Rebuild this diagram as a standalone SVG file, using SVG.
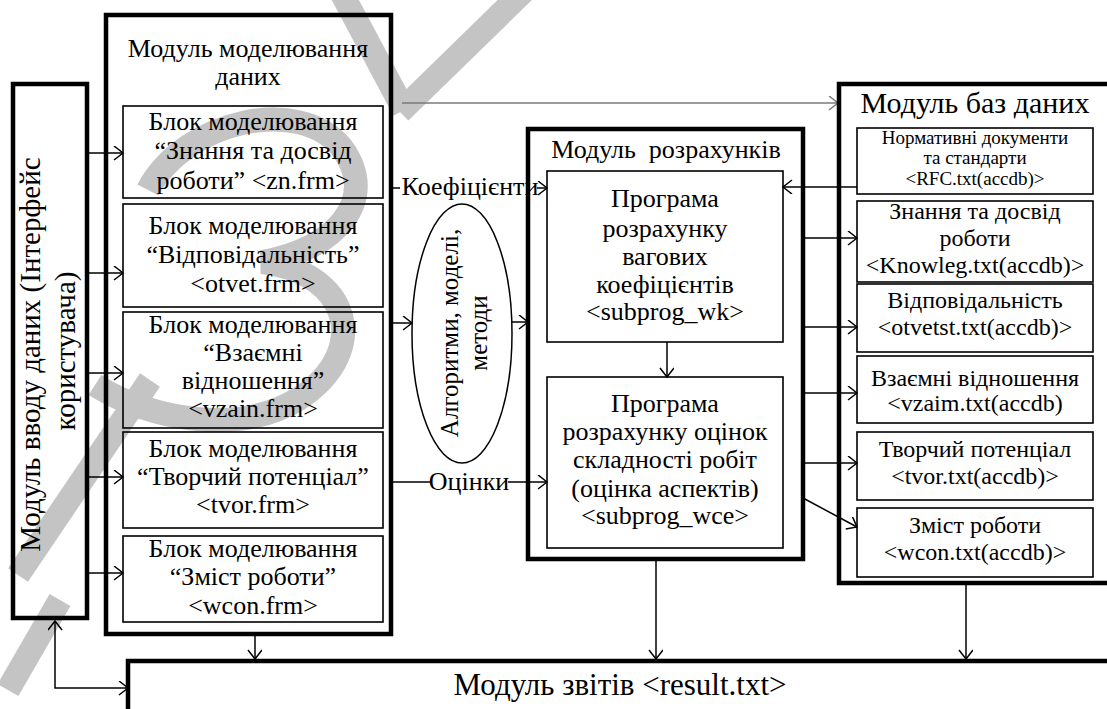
<svg xmlns="http://www.w3.org/2000/svg" width="1107" height="709" viewBox="0 0 1107 709">
  <defs>
    <style>
      .mod{fill:none;stroke:#000;stroke-width:4.5}
      .blk{fill:none;stroke:#000;stroke-width:1.6}
      .t{font-family:'Liberation Serif','Times New Roman',serif;fill:#000;text-anchor:middle}
      .c{fill:none;stroke:#000;stroke-width:1.5}
      .g{fill:none;stroke:#7a7a7a;stroke-width:1.5}
      .wm{fill:none;stroke:#c4c4c4;stroke-width:24;stroke-linecap:butt}
    </style>
    <marker id="arr" markerUnits="userSpaceOnUse" markerWidth="12" markerHeight="16" refX="10" refY="7" orient="auto-start-reverse">
      <path d="M1,0 L10,7 L1,14" fill="none" stroke="#000" stroke-width="1.5"/>
    </marker>
    <marker id="arrg" markerUnits="userSpaceOnUse" markerWidth="12" markerHeight="16" refX="10" refY="7" orient="auto">
      <path d="M1,0 L10,7 L1,14" fill="none" stroke="#7a7a7a" stroke-width="1.5"/>
    </marker>
  </defs>

  <rect width="1107" height="709" fill="#fff"/>

  <!-- faint background mark -->
  <g id="watermark" class="wm">
    <path d="M340,-10 L404,110"/>
    <path d="M525,-10 L400,112"/>
    <path d="M148,190 C185,120 300,95 342,148 C380,200 335,250 262,262 C350,272 372,350 300,398 C240,436 150,420 95,385"/>
    <path d="M150,380 L18,575"/>
    <path d="M60,600 L8,690"/>
  </g>

  <!-- connectors -->
  <g id="connectors">
    <path class="c" d="M87,153 H123" marker-end="url(#arr)"/>
    <path class="c" d="M87,273 H123" marker-end="url(#arr)"/>
    <path class="c" d="M87,373 H123" marker-end="url(#arr)"/>
    <path class="c" d="M87,477 H123" marker-end="url(#arr)"/>
    <path class="c" d="M87,573 H123" marker-end="url(#arr)"/>
    <path class="c" d="M55,621 V688 H128" marker-start="url(#arr)" marker-end="url(#arr)"/>
    <path class="c" d="M255,636 V659" marker-end="url(#arr)"/>
    <path class="g" d="M402,103 H838" marker-end="url(#arrg)"/>
    <path class="c" d="M391,188 H400"/>
    <path class="c" d="M537,188 H547" marker-end="url(#arr)"/>
    <path class="c" d="M391,323 H412" marker-end="url(#arr)"/>
    <path class="c" d="M512,322 H528" marker-end="url(#arr)"/>
    <path class="c" d="M391,482 H430"/>
    <path class="c" d="M508,482 H547" marker-end="url(#arr)"/>
    <path class="c" d="M667,342 V377" marker-end="url(#arr)"/>
    <path class="c" d="M857,187 H783" marker-end="url(#arr)"/>
    <path class="c" d="M803,238 H857" marker-end="url(#arr)"/>
    <path class="c" d="M803,327 H857" marker-end="url(#arr)"/>
    <path class="c" d="M803,393 H857" marker-end="url(#arr)"/>
    <path class="c" d="M803,463 H857" marker-end="url(#arr)"/>
    <path class="c" d="M803,498 L857,527" marker-end="url(#arr)"/>
    <path class="c" d="M656,561 V659" marker-end="url(#arr)"/>
    <path class="c" d="M966,585 V659" marker-end="url(#arr)"/>
    <text class="t" x="470" y="195" font-size="26">Коефіцієнти</text>
    <text class="t" x="469" y="490" font-size="26">Оцінки</text>
  </g>

  <!-- user input module -->
  <g id="input-module">
    <rect class="mod" x="13" y="84" width="74" height="534"/>
    <text class="t" font-size="29" transform="translate(40,351) rotate(-90)">
      <tspan x="0" y="0">Модуль вводу даних (Інтерфейс</tspan>
      <tspan x="0" y="35">користувача)</tspan>
    </text>
  </g>

  <!-- data modelling module -->
  <g id="modelling-module">
    <rect class="mod" x="106" y="15" width="285" height="619"/>
    <text class="t" font-size="26"><tspan x="248" y="57">Модуль моделювання</tspan><tspan x="248" y="85">даних</tspan></text>
  </g>
  <g id="block-zn">
    <rect class="blk" x="123" y="106" width="260" height="92"/>
    <text class="t" font-size="26"><tspan x="253" y="130">Блок моделювання</tspan><tspan x="253" y="159">“Знання та досвід</tspan><tspan x="253" y="189">роботи” &lt;zn.frm&gt;</tspan></text>
  </g>
  <g id="block-otvet">
    <rect class="blk" x="123" y="204" width="260" height="103"/>
    <text class="t" font-size="26"><tspan x="253" y="234">Блок моделювання</tspan><tspan x="253" y="263">“Відповідальність”</tspan><tspan x="253" y="292">&lt;otvet.frm&gt;</tspan></text>
  </g>
  <g id="block-vzain">
    <rect class="blk" x="123" y="312" width="260" height="116"/>
    <text class="t" font-size="26"><tspan x="253" y="333">Блок моделювання</tspan><tspan x="253" y="361">“Взаємні</tspan><tspan x="253" y="389">відношення”</tspan><tspan x="253" y="417">&lt;vzain.frm&gt;</tspan></text>
  </g>
  <g id="block-tvor">
    <rect class="blk" x="123" y="432" width="260" height="96"/>
    <text class="t" font-size="26"><tspan x="253" y="457">Блок моделювання</tspan><tspan x="253" y="485">“Творчий потенціал”</tspan><tspan x="253" y="513">&lt;tvor.frm&gt;</tspan></text>
  </g>
  <g id="block-wcon">
    <rect class="blk" x="123" y="536" width="260" height="86"/>
    <text class="t" font-size="26"><tspan x="253" y="557">Блок моделювання</tspan><tspan x="253" y="585">“Зміст роботи”</tspan><tspan x="253" y="614">&lt;wcon.frm&gt;</tspan></text>
  </g>

  <!-- algorithms, models, methods -->
  <g id="methods">
    <ellipse cx="462" cy="333.5" rx="50" ry="129.5" fill="none" stroke="#000" stroke-width="1.5"/>
    <text class="t" font-size="25" transform="translate(458,333) rotate(-90)"><tspan x="0" y="0">Алгоритми, моделі,</tspan><tspan x="0" y="29">методи</tspan></text>
  </g>

  <!-- calculation module -->
  <g id="calc-module">
    <rect class="mod" x="528" y="129" width="275" height="430"/>
    <text class="t" x="666" y="158" font-size="26" xml:space="preserve">Модуль  розрахунків</text>
  </g>
  <g id="subprog-wk">
    <rect class="blk" x="547" y="171" width="236" height="171"/>
    <text class="t" font-size="26"><tspan x="665" y="207">Програма</tspan><tspan x="665" y="237">розрахунку</tspan><tspan x="665" y="265">вагових</tspan><tspan x="665" y="293">коефіцієнтів</tspan><tspan x="665" y="320">&lt;subprog_wk&gt;</tspan></text>
  </g>
  <g id="subprog-wce">
    <rect class="blk" x="547" y="377" width="236" height="171"/>
    <text class="t" font-size="26"><tspan x="665" y="412">Програма</tspan><tspan x="665" y="440">розрахунку оцінок</tspan><tspan x="665" y="468">складності робіт</tspan><tspan x="665" y="497">(оцінка аспектів)</tspan><tspan x="665" y="524">&lt;subprog_wce&gt;</tspan></text>
  </g>

  <!-- database module -->
  <g id="db-module">
    <rect class="mod" x="839" y="84" width="300" height="499"/>
    <text class="t" x="975" y="113" font-size="30">Модуль баз даних</text>
  </g>
  <g id="db-rfc">
    <rect class="blk" x="857" y="128" width="236" height="66"/>
    <text class="t" font-size="19"><tspan x="975" y="144">Нормативні документи</tspan><tspan x="975" y="164">та стандарти</tspan><tspan x="975" y="185">&lt;RFC.txt(accdb)&gt;</tspan></text>
  </g>
  <g id="db-knowleg">
    <rect class="blk" x="857" y="201" width="236" height="81"/>
    <text class="t" font-size="24"><tspan x="975" y="219">Знання та досвід</tspan><tspan x="975" y="246">роботи</tspan><tspan x="975" y="273">&lt;Knowleg.txt(accdb)&gt;</tspan></text>
  </g>
  <g id="db-otvetst">
    <rect class="blk" x="857" y="284" width="236" height="68"/>
    <text class="t" font-size="24"><tspan x="975" y="308">Відповідальність</tspan><tspan x="975" y="335">&lt;otvetst.txt(accdb)&gt;</tspan></text>
  </g>
  <g id="db-vzaim">
    <rect class="blk" x="857" y="356" width="236" height="67"/>
    <text class="t" font-size="24"><tspan x="975" y="386">Взаємні відношення</tspan><tspan x="975" y="411">&lt;vzaim.txt(accdb)</tspan></text>
  </g>
  <g id="db-tvor">
    <rect class="blk" x="857" y="432" width="236" height="68"/>
    <text class="t" font-size="24"><tspan x="975" y="457">Творчий потенціал</tspan><tspan x="975" y="484">&lt;tvor.txt(accdb)&gt;</tspan></text>
  </g>
  <g id="db-wcon">
    <rect class="blk" x="857" y="508" width="236" height="69"/>
    <text class="t" font-size="24"><tspan x="975" y="533">Зміст роботи</tspan><tspan x="975" y="560">&lt;wcon.txt(accdb)&gt;</tspan></text>
  </g>

  <!-- report module -->
  <g id="report-module">
    <rect class="mod" x="128" y="661" width="1000" height="100"/>
    <text class="t" x="620" y="695" font-size="31">Модуль звітів &lt;result.txt&gt;</text>
  </g>
</svg>
